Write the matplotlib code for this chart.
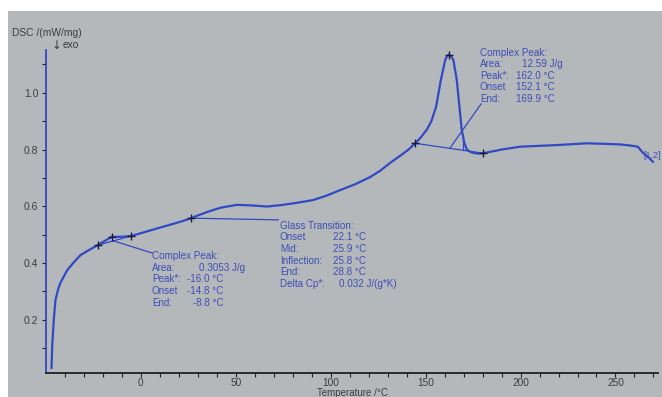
import matplotlib
matplotlib.use("Agg")
import matplotlib.pyplot as plt
from matplotlib.patches import Rectangle
from matplotlib.ticker import MultipleLocator

plt.rcParams['font.family'] = ['Liberation Sans', 'DejaVu Sans']

# DSC curve
temp = [-47.1, -46.7, -45.9, -45.0, -43.5, -42.4, -38.8, -35.0, -31.8, -27.0,
        -22.7, -19.0, -15.2, -12.0, -8.8, -5.2, 0, 5, 11.8, 18,
        22.1, 26.4, 29, 35, 42, 50.6, 58, 66.4, 75, 83,
        90.8, 98, 105, 113, 120.8, 126, 131.3, 136.6, 141, 144.5,
        147.1, 150.6, 153, 155.5, 158, 160.3, 161.3, 162.2, 163.3, 164.6, 166.4, 167.8,
        169, 170.3, 171.7, 174, 177, 180.4, 190, 199.7, 210, 220,
        234.8, 245, 252.4, 258, 261.8, 264.5, 267, 269.7]
dsc = [0.03, 0.11, 0.20, 0.27, 0.31, 0.33, 0.375, 0.405, 0.428, 0.447,
       0.463, 0.478, 0.493, 0.492, 0.493, 0.495, 0.505, 0.515, 0.528, 0.54,
       0.548, 0.558, 0.565, 0.58, 0.595, 0.605, 0.603, 0.599, 0.605, 0.613,
       0.622, 0.638, 0.657, 0.678, 0.703, 0.725, 0.753, 0.778, 0.80, 0.822,
       0.84, 0.87, 0.90, 0.951, 1.045, 1.116, 1.13, 1.134, 1.13, 1.116, 1.045, 0.951,
       0.87, 0.825, 0.80, 0.79, 0.786, 0.787, 0.80, 0.81, 0.813, 0.816,
       0.822, 0.82, 0.818, 0.814, 0.81, 0.788, 0.775, 0.757]

# evaluation markers (+)
mark_t = [-22.7, -15.2, -5.2, 26.4, 144.5, 162.2, 180.4]
mark_v = [0.463, 0.493, 0.495, 0.558, 0.822, 1.134, 0.787]

# baselines and leader lines
small_base_t, small_base_v = [-22.7, -5.2], [0.463, 0.495]
big_base_t, big_base_v = [144.5, 180.4], [0.822, 0.787]
lead_small_t, lead_small_v = [-14.5, 6.0], [0.478, 0.435]
lead_glass_t, lead_glass_v = [26.4, 72.4], [0.558, 0.552]
lead_big_t, lead_big_v = [162.9, 179.2], [0.806, 0.961]
vline_t, vline_v = [169.7, 169.7], [0.797, 0.83]

x_ticks = [0, 50, 100, 150, 200, 250]
y_ticks = [0.2, 0.4, 0.6, 0.8, 1.0]

big_labels = ["Complex Peak:", "Area:", "Peak*:", "Onset", "End:"]
big_values = ["", "12.59 J/g", "162.0 \u00b0C", "152.1 \u00b0C", "169.9 \u00b0C"]
small_labels = ["Complex Peak:", "Area:", "Peak*:", "Onset", "End:"]
small_values = ["", "0.3053 J/g", "-16.0 \u00b0C", "-14.8 \u00b0C", "-8.8 \u00b0C"]
glass_labels = ["Glass Transition:", "Onset", "Mid:", "Inflection:", "End:", "Delta Cp*:"]
glass_values = ["", "22.1 \u00b0C", "25.9 \u00b0C", "25.8 \u00b0C", "28.8 \u00b0C", "0.032 J/(g*K)"]

W, H = 662, 397
blue = "#3049c4"
tblue = "#3c4db8"
grey_txt = "#3c3c3c"

fig = plt.figure(figsize=(W / 100, H / 100), dpi=100, facecolor="white")
fig.patches.append(Rectangle((8 / W, 0), 1, 1 - 11 / H, transform=fig.transFigure,
                             facecolor="#b5b8ba", edgecolor="none", zorder=-5))

ax = fig.add_axes([46 / W, 1 - 373 / H, 612 / W, 323 / H])
ax.patch.set_visible(False)
ax.set_xlim(-50, 272.4)
ax.set_ylim(0.012, 1.151)

ax.plot(temp, dsc, color=blue, lw=1.6, zorder=3)
for t, v in [(small_base_t, small_base_v), (big_base_t, big_base_v),
             (lead_small_t, lead_small_v), (lead_glass_t, lead_glass_v),
             (lead_big_t, lead_big_v), (vline_t, vline_v)]:
    ax.plot(t, v, color=blue, lw=0.9, zorder=2)
ax.plot(mark_t, mark_v, ls="none", marker="+", ms=6, mew=1.0, color="#1a1a40", zorder=4)

for s in ["top", "right"]:
    ax.spines[s].set_visible(False)
ax.spines["left"].set_color(blue)
ax.spines["left"].set_linewidth(1.3)
ax.spines["bottom"].set_color("#202020")
ax.spines["bottom"].set_linewidth(1.3)

ax.set_xticks(x_ticks)
ax.set_xticklabels([str(t) for t in x_ticks])
ax.set_xticks([t for t in range(-40, 271, 10) if t % 50 != 0], minor=True)
ax.set_yticks(y_ticks)
ax.set_yticklabels([f"{v:.1f}" for v in y_ticks])
ax.yaxis.set_minor_locator(MultipleLocator(0.1))
ax.tick_params(which="both", direction="out", length=3, width=0.8, color="#202020",
               labelsize=7.5, labelcolor=grey_txt)
ax.tick_params(axis="x", pad=0.5, labelsize=7.3)
ax.tick_params(axis="y", pad=2.5)

def ftext(x, y, s, ha="left", **kw):
    fig.text(x / W, 1 - y / H, s, va="center", ha=ha, **kw)

ftext(12, 33, "DSC /(mW/mg)", fontsize=7.4, color=grey_txt)
ftext(52, 45.5, "\u2193", fontsize=8.5, color=grey_txt, family="DejaVu Sans")
ftext(63, 45.5, "exo", fontsize=7.4, color=grey_txt)
ftext(352, 392.5, "Temperature /\u00b0C", ha="center", fontsize=7.0, color=grey_txt)

fs = 7.1
big_right = [0, 563, 555, 555, 555]
for i, (lab, val) in enumerate(zip(big_labels, big_values)):
    y = 52.7 + i * 11.6
    ftext(480, y, lab, fontsize=fs, color=tblue)
    if val:
        ftext(big_right[i], y, val, ha="right", fontsize=fs, color=tblue)

small_right = [0, 245, 223.5, 223.5, 223.5]
for i, (lab, val) in enumerate(zip(small_labels, small_values)):
    y = 256 + i * 11.7
    ftext(152, y, lab, fontsize=fs, color=tblue)
    if val:
        ftext(small_right[i], y, val, ha="right", fontsize=fs, color=tblue)

glass_right = [0, 366, 366, 366, 366, 397]
for i, (lab, val) in enumerate(zip(glass_labels, glass_values)):
    y = 225.7 + i * 11.65
    ftext(280, y, lab, fontsize=fs, color=tblue)
    if val:
        ftext(glass_right[i], y, val, ha="right", fontsize=fs, color=tblue)

ftext(643, 156, "[1.2]", fontsize=6.5, color=tblue)

fig.savefig("out.png", dpi=100, facecolor="white")
